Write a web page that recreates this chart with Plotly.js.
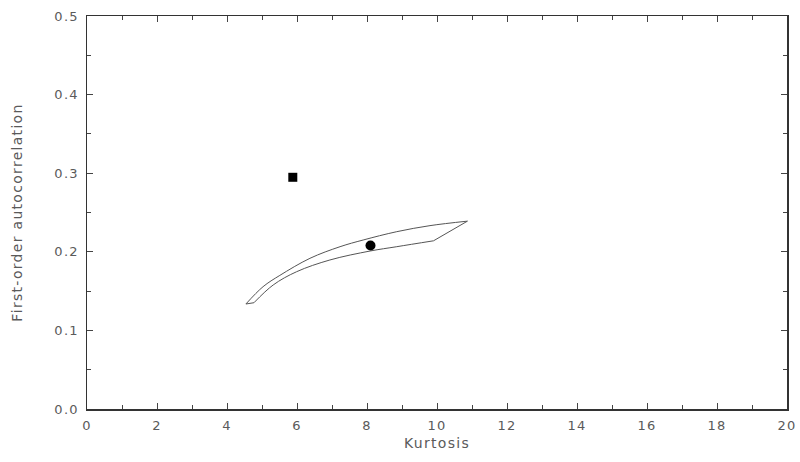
<!DOCTYPE html>
<html>
<head>
<meta charset="utf-8">
<script src="https://cdn.plot.ly/plotly-3.0.1.min.js"></script>
<style>
html,body{margin:0;padding:0;background:#fff;}
#chart{width:800px;height:462px;}
#chart text{letter-spacing:1.3px;}
</style>
</head>
<body>
<div id="chart"></div>
<script>
// Upper edge of the region (left tip -> right tip)
const upperX = [4.54, 5.03, 5.51, 6.37, 7.23, 7.89, 8.85, 9.80, 10.87];
const upperY = [0.1336, 0.1556, 0.170, 0.1917, 0.2065, 0.215, 0.2256, 0.2333, 0.239];
// Lower edge of the region (right corner -> left end)
const lowerX = [9.90, 8.85, 8.09, 6.94, 5.99, 5.32, 4.77];
const lowerY = [0.214, 0.2065, 0.201, 0.1896, 0.1747, 0.1578, 0.1352];
const squareX = [5.88];
const squareY = [0.2948];
const circleX = [8.1];
const circleY = [0.208];
const xTicks = [0, 2, 4, 6, 8, 10, 12, 14, 16, 18, 20];
const yTicks = [0.0, 0.1, 0.2, 0.3, 0.4, 0.5];

const fontFam = 'DejaVu Sans, sans-serif';
const txtColor = '#5a5a5a';
const outline = {color: '#555', width: 1};

const last = a => a[a.length - 1];

const traces = [
  {x: upperX, y: upperY, mode: 'lines', line: Object.assign({shape: 'spline', smoothing: 1}, outline), showlegend: false},
  {x: lowerX, y: lowerY, mode: 'lines', line: Object.assign({shape: 'spline', smoothing: 1}, outline), showlegend: false},
  {x: [last(upperX), lowerX[0]], y: [last(upperY), lowerY[0]], mode: 'lines', line: outline, showlegend: false},
  {x: [last(lowerX), upperX[0]], y: [last(lowerY), upperY[0]], mode: 'lines', line: outline, showlegend: false},
  {x: squareX, y: squareY, mode: 'markers', marker: {symbol: 'square', size: 9, color: '#000'}, showlegend: false},
  {x: circleX, y: circleY, mode: 'markers', marker: {symbol: 'circle', size: 10, color: '#000'}, showlegend: false}
];

const axisCommon = {
  showgrid: false, zeroline: false, showline: true, linecolor: '#333', linewidth: 1.5,
  mirror: 'ticks', ticks: 'inside', ticklen: 6, tickcolor: '#444', tickwidth: 1,
  tickfont: {family: fontFam, size: 13, color: txtColor}
};

const layout = {
  width: 800, height: 462,
  margin: {l: 87, r: 13, t: 16, b: 53},
  paper_bgcolor: '#fff', plot_bgcolor: '#fff',
  showlegend: false,
  xaxis: Object.assign({}, axisCommon, {
    range: [0, 20], tickvals: xTicks, ticktext: xTicks.map(String),
    minor: {dtick: 1, ticks: 'inside', ticklen: 4, tickcolor: '#444'},
    ticklabelstandoff: 4,
    title: {text: 'Kurtosis', font: {family: fontFam, size: 14, color: txtColor}, standoff: 6}
  }),
  yaxis: Object.assign({}, axisCommon, {
    range: [0, 0.5], tickvals: yTicks, ticktext: yTicks.map(v => v.toFixed(1)),
    minor: {dtick: 0.05, ticks: 'inside', ticklen: 4, tickcolor: '#444'},
    ticklabelstandoff: 4,
    title: {text: 'First-order autocorrelation', font: {family: fontFam, size: 14, color: txtColor}, standoff: 32}
  })
};

Plotly.newPlot('chart', traces, layout, {displayModeBar: false, staticPlot: true});
</script>
</body>
</html>
